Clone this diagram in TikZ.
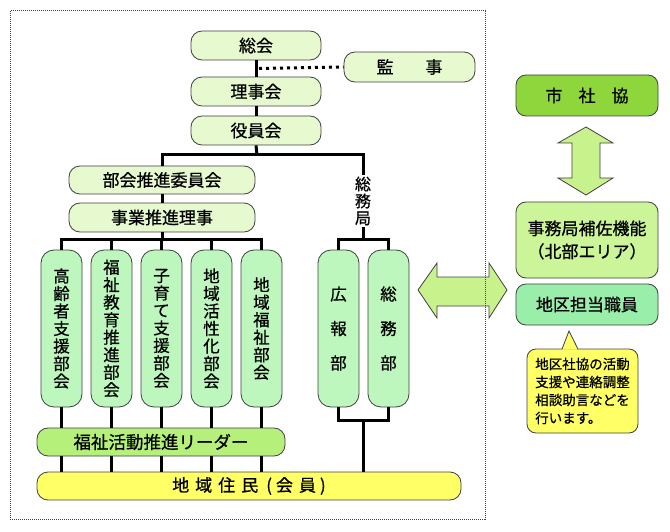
\documentclass[tikz,border=0pt]{standalone}
\usepackage{fontspec}
\setmainfont{Noto Sans CJK JP}[FakeBold=0.7]
\usetikzlibrary{calc}
\definecolor{lgreen}{HTML}{E6F9CF}
\definecolor{vgreen}{HTML}{BDF7BD}
\definecolor{leadg}{HTML}{B5F07A}
\definecolor{resy}{HTML}{FFFF66}
\definecolor{sskg}{HTML}{8FD63C}
\definecolor{jhg}{HTML}{CCF59A}
\definecolor{ctg}{HTML}{99EEAA}
\definecolor{arrg}{HTML}{C8F28C}
\definecolor{edge}{HTML}{404040}
\newcommand\fsz[2]{\fontsize{#1}{#2}\selectfont}
\begin{document}
\begin{tikzpicture}[x=1pt,y=-1pt,
  hbox/.style={draw=edge, line width=0.8pt, rounded corners=11pt, inner sep=0pt, align=center, font=\fsz{17}{18}},
  vbox/.style={draw=edge, line width=0.8pt, rounded corners=13pt, inner sep=0pt, align=center, fill=vgreen,
    minimum width=41, minimum height=157, font=\fsz{16.5}{17.5}},
  rbox/.style={draw=edge, line width=0.8pt, rounded corners=10pt, inner sep=0pt, align=center, minimum width=142, font=\fsz{17}{23}},
  conn/.style={line width=3pt, black},
  bigarrow/.style={draw=edge, line width=0.8pt, fill=arrg, line join=miter}
]
\useasboundingbox (0,0) rectangle (670,532);

% big arrows (drawn first, frame over them)
\draw[bigarrow] (418,290) -- (437,263) -- (437,277) -- (489,277) -- (489,263) -- (507,290)
  -- (489,318) -- (489,306) -- (437,306) -- (437,318) -- cycle;
\draw[bigarrow] (586,127) -- (613,143) -- (600,143) -- (600,178) -- (613,178) -- (586,195)
  -- (558,178) -- (572,178) -- (572,143) -- (558,143) -- cycle;

% frame
\draw[edge, line width=1pt, dash pattern=on 1pt off 1pt] (10,11) rectangle (485,519);

% left organisation nodes
\node[hbox, fill=lgreen, minimum width=130, minimum height=29] (zk) at (256,45.5) {総会};
\node[hbox, fill=lgreen, minimum width=131, minimum height=30] (kanji) at (409.5,67) {監\hspace{32pt}事};
\node[hbox, fill=lgreen, minimum width=130, minimum height=29] (rj) at (256,91.5) {理事会};
\node[hbox, fill=lgreen, minimum width=130, minimum height=29] (yk) at (256,130.5) {役員会};
\node[hbox, fill=lgreen, minimum width=186, minimum height=28] (bsk) at (162,180) {部会推進委員会};
\node[hbox, fill=lgreen, minimum width=186, minimum height=29] (jsr) at (162,217.5) {事業推進理事};
\node[inner sep=1.5pt, align=center, font=\fsz{16}{17}] (smk) at (363,201) {総\\務\\局};

\node[vbox] (v1) at (61.5,328.5) {高\\齢\\者\\支\\援\\部\\会};
\node[vbox] (v2) at (111.5,328.5) {福\\祉\\教\\育\\推\\進\\部\\会};
\node[vbox] (v3) at (161.5,328.5) {子\\育\\て\\支\\援\\部\\会};
\node[vbox] (v4) at (211.5,328.5) {地\\域\\活\\性\\化\\部\\会};
\node[vbox] (v5) at (261.5,328.5) {地\\域\\福\\祉\\部\\会};
\node[vbox] (kh) at (338.5,328.5) {広\\[17pt]報\\[17pt]部};
\node[vbox] (sm) at (388.5,328.5) {総\\[17pt]務\\[17pt]部};

\node[hbox, fill=leadg, minimum width=248, minimum height=28, font=\fsz{17.5}{18}] (lead) at (161,442) {福祉活動推進リーダー};
\node[hbox, fill=resy, minimum width=424, minimum height=28] (res) at (249,486)
  {地\hspace{6pt}域\hspace{6pt}住\hspace{6pt}民\hspace{8pt}(\hspace{4pt}会\hspace{6pt}員\hspace{4pt})};

% right side nodes
\node[rbox, fill=sskg, minimum height=41] (ssk) at (587,95.5) {市\hspace{16pt}社\hspace{16pt}協};
\node[rbox, fill=jhg, minimum height=76] (jh) at (587,240) {事務局補佐機能\\（北部エリア）};
\node[rbox, fill=ctg, minimum height=41] (ct) at (587,304.5) {地区担当職員};
\node[draw=edge, line width=0.8pt, fill=resy, rounded corners=9pt, minimum width=111, minimum height=84,
  inner sep=0pt, align=left, font=\fsz{13.5}{18}] (cal) at (582.5,391)
  {地区社協の活動\\支援や連絡調整\\相談助言などを\\行います。};
\coordinate (tip) at (569,331);
\fill[resy] (562,349.6) -- (tip) -- (578,349.6) -- cycle;
\draw[edge, line width=0.8pt, line join=miter] (562,349.2) -- (tip) -- (578,349.2);

% connectors
\coordinate (b1) at (257,155);
\coordinate (b2) at (162,240);
\coordinate (b3) at (363,240);
\coordinate (b4) at (363,420);
\draw[conn] (zk.south) -- (rj.north);
\draw[conn] (rj.south) -- (yk.north);
\draw[line width=3pt, black, dash pattern=on 3pt off 4pt] ($(zk.south)!0.5!(rj.north)+(3,0)$) -- (kanji.west);
\draw[conn] (yk.south) -- (b1);
\draw[conn] (bsk.north) |- (b1) -| (smk.north);
\draw[conn] (bsk.south) -- (jsr.north);
\draw[conn] (jsr.south) -- (b2);
\foreach \v in {v1,v2,v3,v4,v5}{
  \draw[conn] (\v.north) |- (b2);
  \draw[conn] (\v.south) -- (\v.south |- lead.north);
  \draw[conn] (\v.south |- lead.south) -- (\v.south |- res.north);
}
\draw[conn] (smk.south) -- (b3);
\draw[conn] (kh.north) |- (b3) -| (sm.north);
\draw[conn] (kh.south) |- (b4) -| (sm.south);
\draw[conn] (b4) -- (b4 |- res.north);
\end{tikzpicture}
\end{document}
